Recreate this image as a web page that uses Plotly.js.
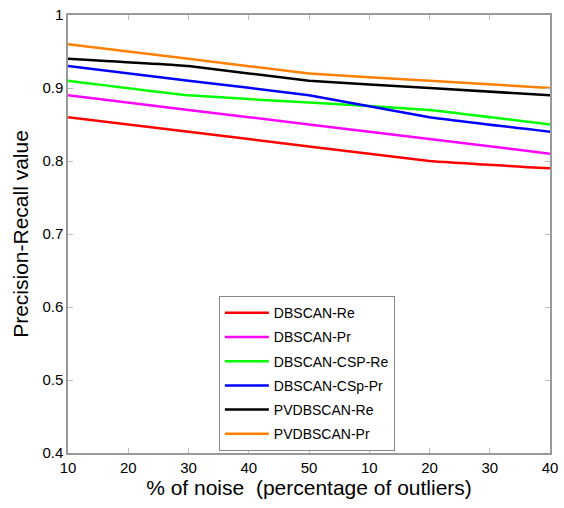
<!DOCTYPE html>
<html><head><meta charset="utf-8">
<script src="https://cdn.plot.ly/plotly-3.0.1.min.js"></script>
<style>body{margin:0;background:#fff}#c{width:564px;height:508px}</style>
</head><body><div id="c"></div>
<script>
const tickLabels = ["10","20","30","40","50","10","20","30","40"];
const xPos = [0, 2, 4, 6, 8];
const seriesNames = ["DBSCAN-Re","DBSCAN-Pr","DBSCAN-CSP-Re","DBSCAN-CSp-Pr","PVDBSCAN-Re","PVDBSCAN-Pr"];
const dbscanRe   = [0.86, 0.84, 0.82, 0.80, 0.79];
const dbscanPr   = [0.89, 0.87, 0.85, 0.83, 0.81];
const cspRe      = [0.91, 0.89, 0.88, 0.87, 0.85];
const cspPr      = [0.93, 0.91, 0.89, 0.86, 0.84];
const pvRe       = [0.94, 0.93, 0.91, 0.90, 0.89];
const pvPr       = [0.96, 0.94, 0.92, 0.91, 0.90];
const colors = ["#ff0000","#ff00ff","#00ff00","#0000ff","#000000","#ff8000"];
const values = [dbscanRe, dbscanPr, cspRe, cspPr, pvRe, pvPr];

const traces = values.map((v,i)=>({
  x: xPos, y: v, name: seriesNames[i], legendgroup:'g'+i, type:'scatter', mode:'lines',
  line:{color:colors[i], width:2.5, shape:'spline', smoothing:0.3}
}));

const axisCommon = {showline:true, linecolor:'#999', linewidth:1.5, mirror:'ticks',
  ticks:'inside', ticklen:5, tickcolor:'#bbb', showgrid:false, zeroline:false,
  tickfont:{family:'Liberation Sans, Arial', size:15, color:'#000'}};

const layout = {
  width:564, height:508,
  margin:{l:68, r:14, t:15, b:55},
  paper_bgcolor:'#fff', plot_bgcolor:'#fff',
  font:{family:'Liberation Sans, Arial', color:'#000'},
  xaxis: Object.assign({}, axisCommon, {
    range:[0,8], tickvals:tickLabels.map((_,i)=>i), ticktext:tickLabels,
    title:{text:'% of noise  (percentage of outliers)', font:{size:21}, standoff:6}
  }),
  yaxis: Object.assign({}, axisCommon, {
    range:[0.4,1], tickvals:[0.4,0.5,0.6,0.7,0.8,0.9,1], ticktext:['0.4','0.5','0.6','0.7','0.8','0.9','1'],
    title:{text:'Precision-Recall value', font:{size:21}, standoff:8}
  }),
  legend:{x:0.313, y:0.358, xanchor:'left', yanchor:'top', bordercolor:'#888', borderwidth:1,
    bgcolor:'#fff', font:{size:14, family:'Liberation Sans, Arial'}, tracegroupgap:3, itemwidth:44},
  showlegend:true
};
Plotly.newPlot('c', traces, layout, {displayModeBar:false});
</script></body></html>
